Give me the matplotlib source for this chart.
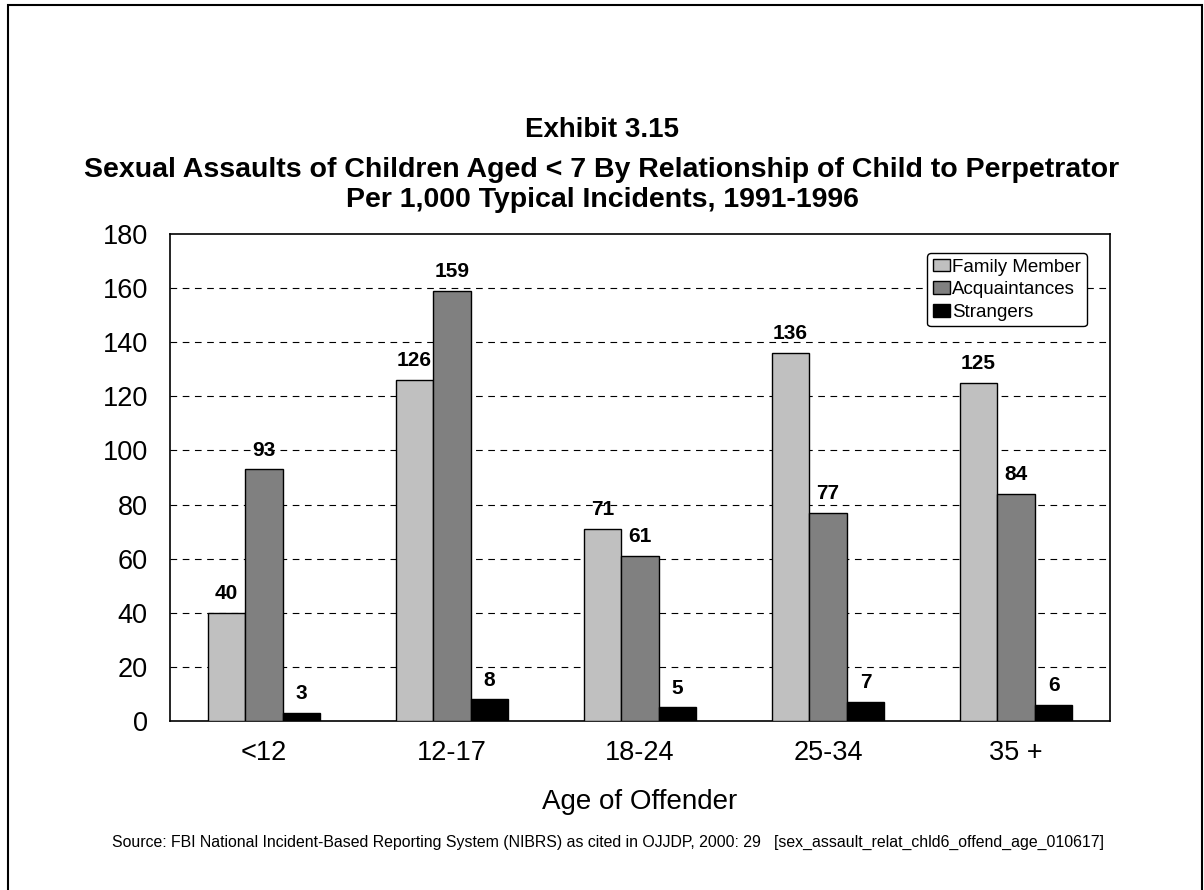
import matplotlib.pyplot as plt
import numpy as np
from matplotlib.patches import Rectangle

plt.rcParams['font.family'] = ['Liberation Sans', 'DejaVu Sans']

# data
age_groups = ['<12', '12-17', '18-24', '25-34', '35 +']
series_names = ['Family Member', 'Acquaintances', 'Strangers']
family = [40, 126, 71, 136, 125]
acquaint = [93, 159, 61, 77, 84]
strangers = [3, 8, 5, 7, 6]
colors = ['#c0c0c0', '#808080', '#000000']

fig = plt.figure(figsize=(12.04, 8.90), dpi=100)
ax = fig.add_axes([0.1412, 0.1899, 0.7807, 0.5472])

x = np.arange(len(age_groups))
bar_width = 0.2
for i, (vals, name, col) in enumerate(zip([family, acquaint, strangers], series_names, colors)):
    pos = x + (i - 1) * bar_width
    bars = ax.bar(pos, vals, width=bar_width, color=col, edgecolor='black',
                  linewidth=1.0, label=name, zorder=3)
    for b, v in zip(bars, vals):
        ax.annotate(str(v), (b.get_x() + b.get_width() / 2, v), xytext=(0, 7),
                    textcoords='offset points', ha='center', va='bottom',
                    fontsize=15, fontweight='bold', zorder=4)

ax.set_xlim(-0.5, len(age_groups) - 0.5)
ax.set_ylim(0, 180)
ax.set_yticks(range(0, 181, 20))
ax.set_xticks(x)
ax.set_xticklabels(age_groups)
ax.tick_params(axis='both', length=0, labelsize=19.5)
ax.tick_params(axis='x', pad=14)
ax.tick_params(axis='y', pad=16)
for yv in range(20, 180, 20):
    ax.axhline(yv, color='black', linestyle=(0, (6, 5)), linewidth=0.8, zorder=1)
for s in ax.spines.values():
    s.set_linewidth(1.2)

ax.set_xlabel('Age of Offender', fontsize=20, labelpad=16)

leg = ax.legend(loc='upper right', bbox_to_anchor=(0.9755, 0.961), fontsize=13.5,
                frameon=True, fancybox=True, edgecolor='black', handlelength=0.9,
                handleheight=0.65, handletextpad=0.15, borderpad=0.3, labelspacing=0.3,
                borderaxespad=0)
leg.get_frame().set_linewidth(1.0)
leg.get_frame().set_alpha(1)

fig.text(0.5, 1 - 130 / 890, 'Exhibit 3.15', ha='center', va='center', fontsize=20, fontweight='bold')
fig.text(0.5, 1 - 170 / 890, 'Sexual Assaults of Children Aged < 7 By Relationship of Child to Perpetrator',
         ha='center', va='center', fontsize=20.5, fontweight='bold')
fig.text(0.5, 1 - 200 / 890, 'Per 1,000 Typical Incidents, 1991-1996',
         ha='center', va='center', fontsize=20.5, fontweight='bold')
fig.text(0.505, 1 - 842 / 890, 'Source: FBI National Incident-Based Reporting System (NIBRS) as cited in OJJDP, 2000: 29'
         '   [sex_assault_relat_chld6_offend_age_010617]', ha='center', va='center', fontsize=11.4)

# outer frame
fig.patches.append(Rectangle((8 / 1204, -0.05), (1202 - 8) / 1204, 1.05 - 5 / 890,
                             transform=fig.transFigure, fill=False, edgecolor='black',
                             linewidth=1.5))

fig.savefig('out.png', dpi=100)
